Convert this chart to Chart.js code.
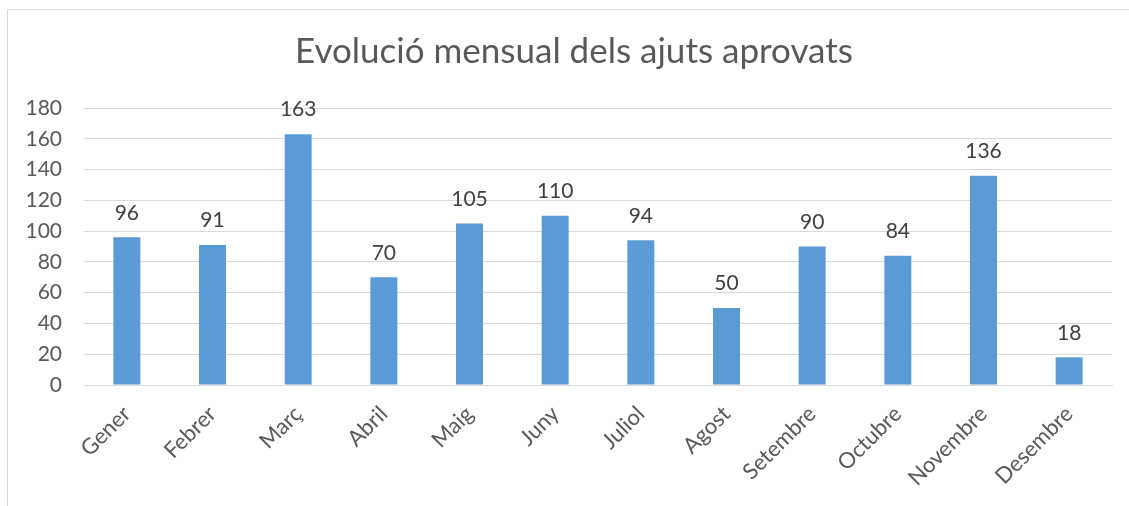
<!DOCTYPE html>
<html>
<head>
<meta charset="utf-8">
<script src="https://cdn.jsdelivr.net/npm/chart.js@4"></script>
<style>
  html, body { margin: 0; padding: 0; background: #fff; }
  #wrap { position: absolute; left: 0; top: 0; width: 1129px; height: 506px; }
</style>
</head>
<body>
<div id="wrap"><canvas id="c" width="1129" height="506"></canvas></div>
<script>
const titleText = "Evolució mensual dels ajuts aprovats";
const months = ["Gener", "Febrer", "Març", "Abril", "Maig", "Juny", "Juliol", "Agost", "Setembre", "Octubre", "Novembre", "Desembre"];
const approved = [96, 91, 163, 70, 105, 110, 94, 50, 90, 84, 136, 18];
const yTicks = [0, 20, 40, 60, 80, 100, 120, 140, 160, 180];

const FONT = "Lato, 'Open Sans', sans-serif";

const framePlugin = {
  id: 'frame',
  beforeDraw(chart) {
    const ctx = chart.ctx;
    ctx.save();
    ctx.fillStyle = '#ffffff';
    ctx.fillRect(0, 0, chart.width, chart.height);
    ctx.strokeStyle = '#d9d9d9';
    ctx.lineWidth = 1;
    ctx.strokeRect(7.5, 9.5, 1133, 520);
    // chart title, centred on the chart frame
    ctx.font = "35px " + FONT;
    ctx.fillStyle = '#595959';
    ctx.textAlign = 'center';
    ctx.textBaseline = 'middle';
    ctx.fillText(titleText, 574, 52);
    ctx.restore();
  }
};

const labelPlugin = {
  id: 'valueLabels',
  afterDatasetsDraw(chart) {
    const ctx = chart.ctx;
    const meta = chart.getDatasetMeta(0);
    ctx.save();
    ctx.font = "21px " + FONT;
    ctx.fillStyle = '#404040';
    ctx.textAlign = 'center';
    ctx.textBaseline = 'bottom';
    meta.data.forEach((bar, i) => {
      ctx.fillText(String(chart.data.datasets[0].data[i]), bar.x, bar.y - 14);
    });
    ctx.restore();
  }
};

new Chart(document.getElementById('c'), {
  type: 'bar',
  data: {
    labels: months,
    datasets: [{
      data: approved,
      backgroundColor: '#5B9BD5',
      borderWidth: 0,
      barPercentage: 0.315,
      categoryPercentage: 1.0
    }]
  },
  options: {
    responsive: false,
    animation: false,
    devicePixelRatio: 1,
    layout: { padding: { left: 0, right: 17, top: 108, bottom: 0 } },
    plugins: {
      legend: { display: false },
      tooltip: { enabled: false },
      title: { display: false }
    },
    scales: {
      x: {
        grid: { display: false, drawTicks: false },
        border: { display: true, color: '#d9d9d9', width: 1 },
        ticks: {
          color: '#595959',
          font: { family: FONT, size: 22 },
          maxRotation: 45,
          minRotation: 45,
          padding: 16,
          autoSkip: false
        },
        afterFit(scale) { scale.height = 506 - 385; }
      },
      y: {
        min: 0,
        max: 180,
        afterBuildTicks(scale) { scale.ticks = yTicks.map(v => ({ value: v })); },
        grid: { color: '#d9d9d9', lineWidth: 1, drawTicks: false },
        border: { display: false },
        ticks: {
          color: '#595959',
          font: { family: FONT, size: 21 },
          padding: 22
        },
        afterFit(scale) { scale.width = 84; }
      }
    }
  },
  plugins: [framePlugin, labelPlugin]
});
</script>
</body>
</html>
